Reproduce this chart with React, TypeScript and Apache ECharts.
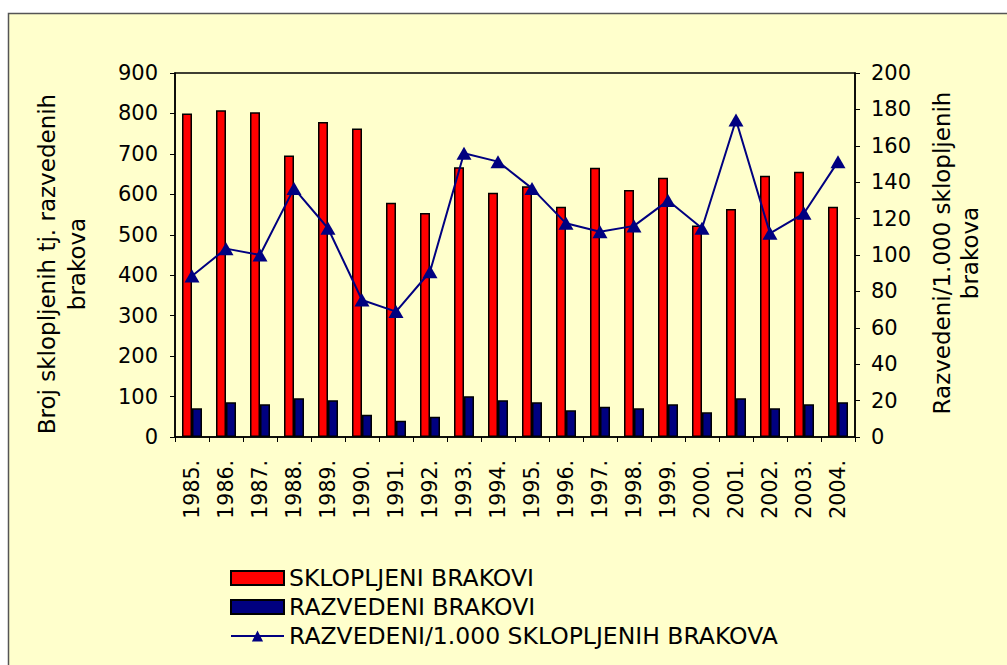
import React, { useEffect, useRef } from "react";
import * as echarts from "echarts";

const years = ["1985.", "1986.", "1987.", "1988.", "1989.", "1990.", "1991.", "1992.", "1993.", "1994.", "1995.", "1996.", "1997.", "1998.", "1999.", "2000.", "2001.", "2002.", "2003.", "2004."];
const sklopljeni = [800, 808, 803, 696, 779, 763, 579, 554, 667, 604, 620, 569, 666, 611, 641, 523, 564, 646, 656, 569];
const razvedeni = [71, 86, 81, 96, 91, 55, 40, 50, 101, 91, 86, 66, 75, 71, 81, 61, 96, 71, 81, 86];
const naTisucu = [88.5, 103.5, 100, 136.6, 114.7, 75.3, 68.9, 90.8, 155.9, 151.3, 136.6, 117.4, 112.8, 116, 129.9, 114.7, 174.2, 111.9, 122.9, 151.3];

const leftTitle = ["Broj sklopljenih tj. razvedenih", "brakova"];
const rightTitle = ["Razvedeni/1.000 sklopljenih", "brakova"];
const seriesNames = ["SKLOPLJENI BRAKOVI", "RAZVEDENI BRAKOVI", "RAZVEDENI/1.000 SKLOPLJENIH BRAKOVA"];

const FONT = "DejaVu Sans";

export default function App() {
  const ref = useRef<HTMLDivElement>(null);
  useEffect(() => {
    if (!ref.current) return;
    const chart = echarts.init(ref.current, undefined, { renderer: "svg" });
    chart.setOption({
      animation: false,
      backgroundColor: "#ffffff",
      textStyle: { fontFamily: FONT, color: "#000" },
      graphic: [
        {
          type: "rect",
          z: -10,
          shape: { x: 8.5, y: 13.5, width: 1010, height: 670 },
          style: { fill: "#FFFFCC", stroke: "#555", lineWidth: 1.5 },
        },
        {
          type: "text",
          x: 62,
          y: 264,
          rotation: Math.PI / 2,
          style: {
            text: leftTitle.join("\n"),
            font: `23px "${FONT}"`,
            fill: "#000",
            align: "center",
            verticalAlign: "middle",
            lineHeight: 30,
          },
        },
        {
          type: "text",
          x: 956,
          y: 253,
          rotation: Math.PI / 2,
          style: {
            text: rightTitle.join("\n"),
            font: `23px "${FONT}"`,
            fill: "#000",
            align: "center",
            verticalAlign: "middle",
            lineHeight: 28,
          },
        },
      ],
      grid: {
        left: 175,
        right: 152,
        top: 73,
        bottom: 228,
        show: true,
        backgroundColor: "#FFFFCC",
        borderColor: "#000",
        borderWidth: 1.5,
      },
      legend: {
        orient: "vertical",
        left: 225,
        top: 561,
        itemWidth: 53,
        itemHeight: 14,
        itemGap: 5,
        textStyle: { fontFamily: FONT, fontSize: 23.5, color: "#000", lineHeight: 22 },
        data: [
          { name: seriesNames[0], icon: "rect" },
          { name: seriesNames[1], icon: "rect" },
          { name: seriesNames[2] },
        ],
      },
      xAxis: {
        type: "category",
        data: years,
        axisLine: { lineStyle: { color: "#000", width: 1.5 } },
        axisTick: { show: true, length: 5, lineStyle: { color: "#000" } },
        axisLabel: { rotate: 90, margin: 23, fontSize: 20.5, color: "#000", fontFamily: FONT },
      },
      yAxis: [
        {
          type: "value",
          min: 0,
          max: 900,
          interval: 100,
          splitLine: { show: false },
          axisLine: { show: true, lineStyle: { color: "#000", width: 1.5 } },
          axisTick: { show: true, length: 5, lineStyle: { color: "#000" } },
          axisLabel: { margin: 17, fontSize: 21, color: "#000", fontFamily: FONT },
        },
        {
          type: "value",
          min: 0,
          max: 200,
          interval: 20,
          position: "right",
          splitLine: { show: false },
          axisLine: { show: true, lineStyle: { color: "#000", width: 1.5 } },
          axisTick: { show: true, length: 5, lineStyle: { color: "#000" } },
          axisLabel: { margin: 16, fontSize: 21, color: "#000", fontFamily: FONT },
        },
      ],
      series: [
        {
          name: seriesNames[0],
          type: "bar",
          data: sklopljeni,
          barWidth: 10,
          barGap: "0%",
          itemStyle: { color: "#FF0000", borderColor: "#000", borderWidth: 1.5 },
        },
        {
          name: seriesNames[1],
          type: "bar",
          data: razvedeni,
          barWidth: 10,
          barGap: "0%",
          itemStyle: { color: "#000080", borderColor: "#000", borderWidth: 1.5 },
        },
        {
          name: seriesNames[2],
          type: "line",
          yAxisIndex: 1,
          data: naTisucu,
          symbol: "triangle",
          symbolSize: [15, 13],
          lineStyle: { color: "#000080", width: 2 },
          itemStyle: { color: "#000080" },
        },
      ],
    });
    return () => chart.dispose();
  }, []);
  return (
    <div
      ref={ref}
      style={{ position: "absolute", left: 0, top: 0, width: 1007, height: 665 }}
    />
  );
}
